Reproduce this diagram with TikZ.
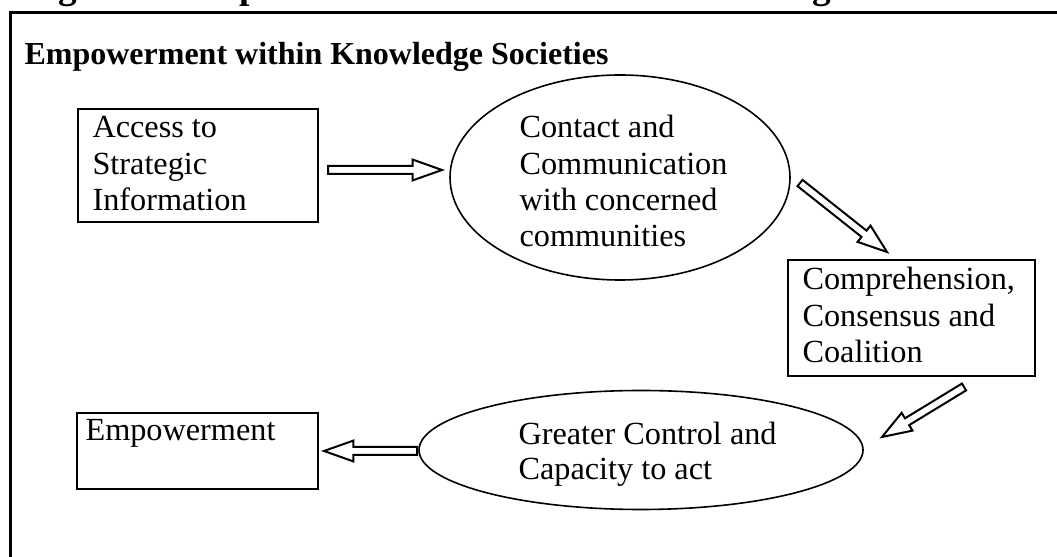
\documentclass[tikz,border=0pt]{standalone}
\usepackage{fontspec}
\setmainfont{Liberation Serif}
\usetikzlibrary{calc,shapes.geometric}
\newcommand\arrshaft{1.5pt}
\newcommand\arrheadw{3.9pt}
\newcommand\arrheadl{11pt}
\newcommand\blockarrow[3]{%
  \coordinate (#1-h) at ($(#3)!\arrheadl!(#2)$);
  \draw[barrow] ($(#2)!\arrshaft!90:(#3)$) -- ($(#1-h)!\arrshaft!90:(#3)$)
    -- ($(#1-h)!\arrheadw!90:(#3)$) -- (#3) -- ($(#1-h)!\arrheadw!-90:(#3)$)
    -- ($(#1-h)!\arrshaft!-90:(#3)$) -- ($(#2)!\arrshaft!-90:(#3)$) -- cycle;}
\tikzset{
  boxshape/.style={draw, line width=0.75pt, inner sep=0pt, anchor=north west},
  ellshape/.style={draw, ellipse, line width=0.6pt, inner sep=0pt},
  txt/.style={anchor=base west, inner sep=0pt, text width=110pt, align=flush left,
    font=\fontsize{12.1pt}{13.6pt}\selectfont},
  barrow/.style={draw, fill=white, line width=0.75pt, line join=miter},
  frame/.style={draw, line width=1.3pt},
}
\begin{document}
\begin{tikzpicture}[x=0.375pt,y=-0.375pt]
\useasboundingbox (0,0) rectangle (1057,557);
\clip (0,0) rectangle (1057,557);
\fill[white] (0,0) rectangle (1057,557);
% cut-off title
\node[anchor=base west, inner sep=0pt, font=\fontsize{14pt}{16pt}\selectfont\bfseries] (title) at (25,-1)
  {Figure 1: Empowerment Process within Knowledge Societies};
% outer frame (cropped)
\draw[frame] (10.5,12.5) rectangle (1200,700);
\node[anchor=base west, inner sep=0pt, font=\fontsize{12pt}{14pt}\selectfont\bfseries] (heading) at (24,65)
  {Empowerment within Knowledge Societies};
% shapes
\node[boxshape, minimum width=240*0.375pt, minimum height=113*0.375pt] (box1) at (77,108) {};
\node[ellshape, minimum width=340*0.375pt, minimum height=205*0.375pt] (ell1) at (620,177.5) {};
\node[boxshape, minimum width=247*0.375pt, minimum height=116*0.375pt] (box2) at (787,259) {};
\node[ellshape, minimum width=444*0.375pt, minimum height=119*0.375pt] (ell2) at (641,450) {};
\node[boxshape, minimum width=241*0.375pt, minimum height=76*0.375pt] (box3) at (76,412) {};
% texts
\node[txt] (t1) at (92,138) {Access to\\Strategic\\Information};
\node[txt] (t2) at (519,138) {Contact and\\Communication\\with concerned\\communities};
\node[txt] (t3) at (802,290) {Comprehension,\\Consensus and\\Coalition};
\node[txt, font=\fontsize{12.1pt}{12.8pt}\selectfont] (t4) at (518,445) {Greater Control and\\Capacity to act};
\node[txt] (t5) at (85,441) {Empowerment};
% arrows
\coordinate (a1s) at (328,170); \coordinate (a1e) at (442,170);
\coordinate (a2s) at (800,183); \coordinate (a2e) at (887,252);
\coordinate (a3s) at (964,387); \coordinate (a3e) at (882,437);
\coordinate (a4s) at (417,451); \coordinate (a4e) at (324,451);
\blockarrow{ar1}{a1s}{a1e}
\blockarrow{ar2}{a2s}{a2e}
\blockarrow{ar3}{a3s}{a3e}
\blockarrow{ar4}{a4s}{a4e}
\end{tikzpicture}
\end{document}
